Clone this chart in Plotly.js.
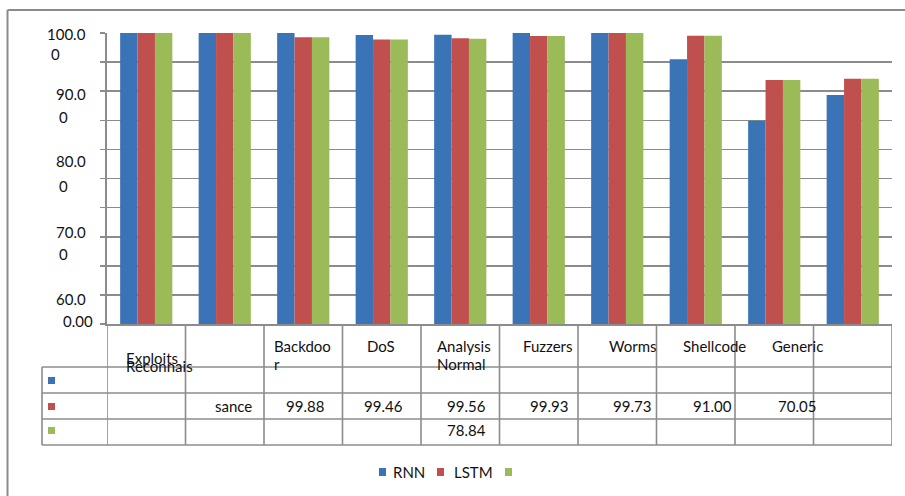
<!DOCTYPE html>
<html>
<head>
<meta charset="utf-8">
<script src="https://cdn.plot.ly/plotly-3.0.1.min.js"></script>
<style>html,body{margin:0;padding:0;background:#fff;}#chart{width:905px;height:496px;}</style>
</head>
<body>
<div id="chart"></div>
<script>
// ---- data ----
const categories = ['Exploits','Reconnaissance','Backdoor','DoS','Analysis','Normal','Fuzzers','Worms','Shellcode','Generic'];
const rnn   = [100, 100, 100, 99.66, 99.7, 100, 100, 95.48, 84.93, 89.35];
const lstm  = [100, 100, 99.26, 98.9, 99.1, 99.5, 100, 99.54, 91.92, 92.15];
const third = [100, 100, 99.26, 98.9, 99.0, 99.5, 100, 99.54, 91.92, 92.15];
const seriesNames = ['RNN', 'LSTM', ''];
const yTickLabels = ['100.0','0','90.0','0','80.0','0','70.0','0','60.0','0.00'];
const headerText = ['Exploits','Reconnais','Backdoo','r','DoS','Analysis','Normal','Fuzzers','Worms','Shellcode','Generic'];
const rowText = ['sance','99.88','99.46','99.56','99.93','99.73','91.00','70.05'];
const row3Text = ['78.84'];

// ---- styles / geometry ----
const colors = ['#3A73B6', '#C0504D', '#9BBB59'];
const gray = '#8c8c8c';
const FONT = 'Lato, "Open Sans", sans-serif';
const L = 107, R = 892, T = 33, B = 324, W = 905, H = 496;
const px = x => (x - L) / (R - L);
const py = y => (B - y) / (B - T);

const traces = [rnn, lstm, third].map((vals, i) => ({
  type: 'bar', x: categories, y: vals, name: seriesNames[i],
  marker: {color: colors[i], line: {width: 0}}, showlegend: false,
  hoverinfo: 'x+y'
}));

const annotations = [];
function txt(t, x, y, anchor, size) {
  annotations.push({text: t, xref: 'paper', yref: 'paper', x: px(x), y: py(y),
    xanchor: anchor || 'center', yanchor: 'middle', showarrow: false,
    font: {family: FONT, size: size || 15, color: '#111'}});
}
// y-axis labels (wrapped Excel labels)
const yLabPos = [[88,34,'right'],[49,54,'left'],[88,94,'right'],[57,117,'left'],[88,161,'right'],
                 [57,186,'left'],[88,231.5,'right'],[57,254,'left'],[88,299,'right'],[95,321,'right']];
yTickLabels.forEach((t, i) => txt(t, yLabPos[i][0], yLabPos[i][1], yLabPos[i][2]));
// table header
const hdrPos = [[124,358,'left'],[124,366,'left'],[272,346,'left'],[272,364,'left'],[381,346,'center'],
                [435,346,'left'],[435,364,'left'],[547.5,346,'center'],[632,346,'center'],[714,346,'center'],[797,346,'center']];
headerText.forEach((t, i) => txt(t, hdrPos[i][0], hdrPos[i][1], hdrPos[i][2]));
// red row
const rowPos = [[254,'right'],[305,'center'],[383,'center'],[466,'center'],[549,'center'],[632,'center'],[734,'right'],[797,'center']];
rowText.forEach((t, i) => txt(t, rowPos[i][0], 406, rowPos[i][1]));
row3Text.forEach(t => txt(t, 466, 430, 'center'));
// bottom legend text
txt(seriesNames[0], 391, 472, 'left');
txt(seriesNames[1], 452, 472, 'left');

const shapes = [];
function line(x0, y0, x1, y1, w) {
  shapes.push({type: 'line', xref: 'paper', yref: 'paper', x0: px(x0), y0: py(y0), x1: px(x1), y1: py(y1),
    line: {color: gray, width: w || 1.6}, layer: 'above'});
}
function sq(x0, y0, x1, y1, c) {
  shapes.push({type: 'rect', xref: 'paper', yref: 'paper', x0: px(x0), y0: py(y0), x1: px(x1), y1: py(y1),
    fillcolor: c, line: {width: 0}, layer: 'above'});
}
// outer frame
line(7.5, 10, 910, 10, 2);
line(7.5, 10, 7.5, 500, 2);
// table lines
for (let k = 0; k <= categories.length; k++) {
  shapes.push({type: 'line', xref: 'x', yref: 'paper', x0: k - 0.5, x1: k - 0.5, y0: py(445), y1: 0,
    line: {color: gray, width: 1.6}, layer: 'above'});
}
[367, 393, 419, 445].forEach(y => line(42, y, R, y));
line(42, 367, 42, 445);
// table legend keys
sq(48, 377, 55, 384, colors[0]);
sq(48, 403, 55, 410, colors[1]);
sq(48, 427, 55, 434, colors[2]);
// bottom legend keys
sq(379, 468, 386, 476, colors[0]);
sq(437, 468, 444, 476, colors[1]);
sq(505, 468, 512, 476, colors[2]);

const layout = {
  width: W, height: H,
  margin: {l: L, r: W - R, t: T, b: H - B, pad: 0},
  paper_bgcolor: '#fff', plot_bgcolor: '#fff',
  barmode: 'group', bargap: 0.335, bargroupgap: 0,
  showlegend: false,
  font: {family: FONT, size: 15, color: '#111'},
  xaxis: {type: 'category', range: [-0.5, 9.5], showticklabels: false, ticks: '',
    showgrid: false, showline: true, linecolor: gray, linewidth: 1.6, zeroline: false},
  yaxis: {range: [50, 100], dtick: 5, tick0: 50, showticklabels: false, ticks: 'outside',
    ticklen: 5, tickwidth: 1.6, tickcolor: gray, showgrid: true, gridcolor: gray, gridwidth: 1.6,
    showline: true, linecolor: gray, linewidth: 1.6, zeroline: false},
  annotations: annotations,
  shapes: shapes
};
Plotly.newPlot('chart', traces, layout, {displayModeBar: false, staticPlot: true});
</script>
</body>
</html>
